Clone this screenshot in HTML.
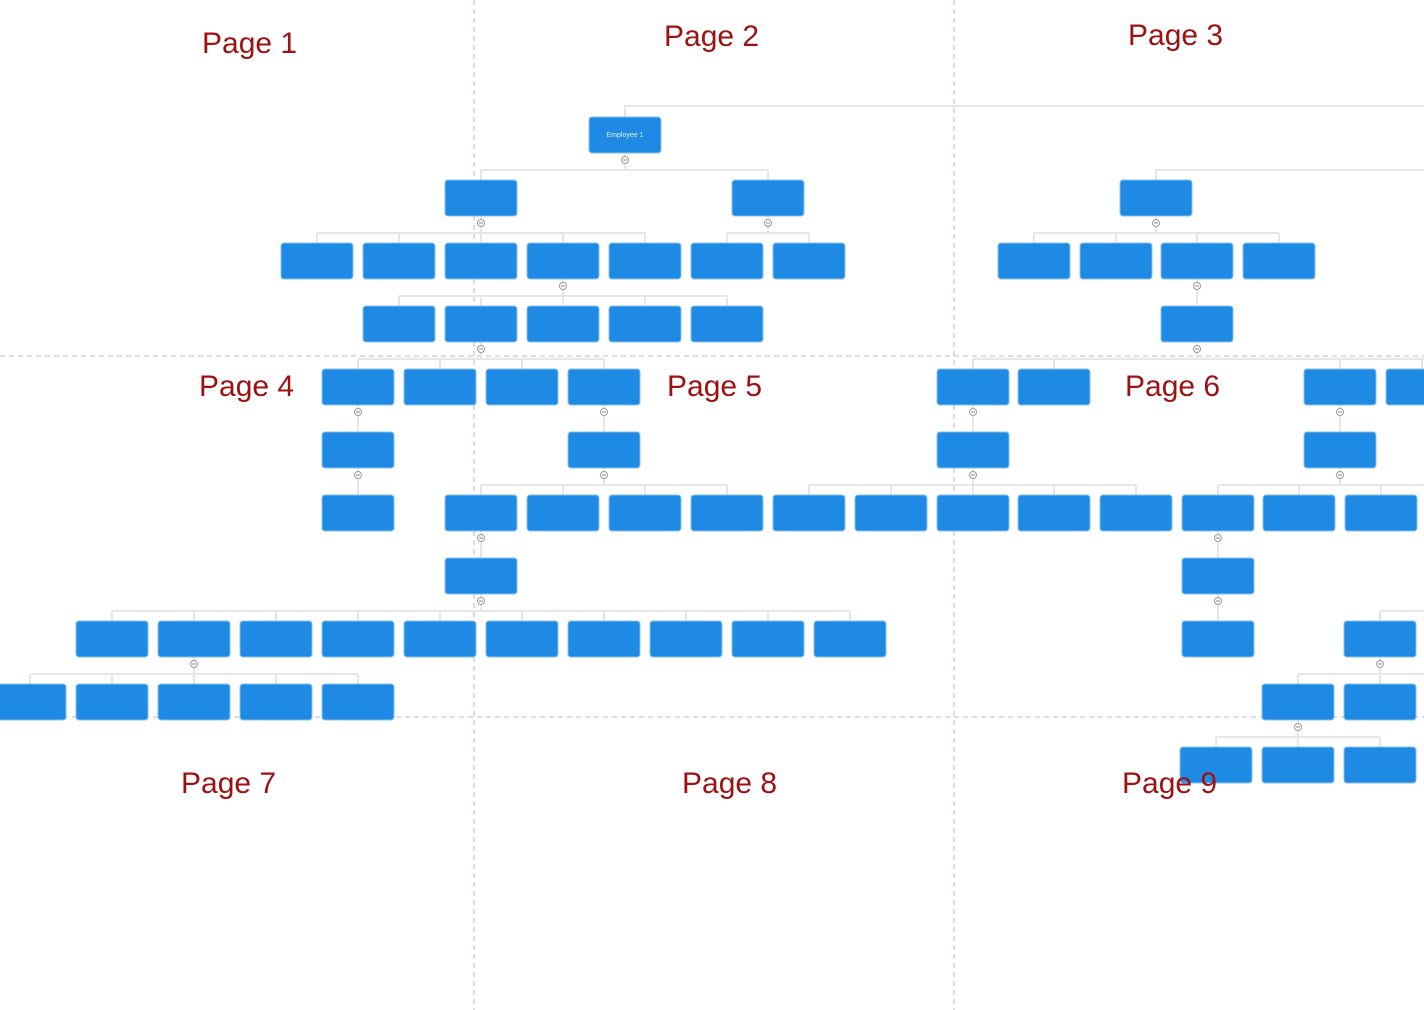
<!DOCTYPE html>
<html><head><meta charset="utf-8"><style>
html,body{margin:0;padding:0;background:#fff;}
body{width:1424px;height:1010px;overflow:hidden;position:relative;}
svg{position:absolute;left:0;top:0;}
.lbl{position:absolute;font-family:"Liberation Sans",sans-serif;font-size:30px;color:#9c1111;line-height:30px;white-space:nowrap;}
</style></head><body>
<svg width="1424" height="1010" viewBox="0 0 1424 1010">
<g stroke="#c6c6e0" stroke-width="1.3" stroke-dasharray="5,4" fill="none">
<path d="M474 0V1010M954 0V1010M0 356H1424M0 717H1424"/>
</g>
<g stroke="#e6e6e6" stroke-width="2" fill="none">
<path d="M625 153V170M481 170H768M481 170V180M768 170V180M625 117V106H1424"/>
<path d="M1156 180V170H1424"/>
<path d="M481 216V233M317 233H645M317 233V243M399 233V243M481 233V243M563 233V243M645 233V243"/>
<path d="M768 216V233M727 233H809M727 233V243M809 233V243"/>
<path d="M1156 216V233M1034 233H1279M1034 233V243M1116 233V243M1197 233V243M1279 233V243"/>
<path d="M563 279V296M399 296H727M399 296V306M481 296V306M563 296V306M645 296V306M727 296V306"/>
<path d="M1197 279V306"/>
<path d="M481 342V359M358 359H604M358 359V369M440 359V369M522 359V369M604 359V369"/>
<path d="M1197 342V359M973 359H1424M973 359V369M1054 359V369M1340 359V369M1422 359V369"/>
<path d="M358 405V432M604 405V432M973 405V432M1340 405V432"/>
<path d="M358 468V495M604 468V485M481 485H727M481 485V495M563 485V495M645 485V495M727 485V495"/>
<path d="M973 468V485M809 485H1136M809 485V495M891 485V495M973 485V495M1054 485V495M1136 485V495"/>
<path d="M1340 468V485M1218 485H1424M1218 485V495M1299 485V495M1381 485V495"/>
<path d="M481 531V558M1218 531V558"/>
<path d="M481 594V611M112 611H850M112 611V621M194 611V621M276 611V621M358 611V621M440 611V621M522 611V621M604 611V621M686 611V621M768 611V621M850 611V621"/>
<path d="M1218 594V621M1380 611H1424M1380 611V621"/>
<path d="M194 657V674M30 674H358M30 674V684M112 674V684M194 674V684M276 674V684M358 674V684"/>
<path d="M1380 657V674M1298 674H1424M1298 674V684M1380 674V684"/>
<path d="M1298 720V737M1216 737H1380M1216 737V747M1298 737V747M1380 737V747"/>
</g>
<g fill="#1e8ae4" stroke="#86c0ee" stroke-width="1">
<rect x="589" y="117" width="72" height="36" rx="3"/>
<rect x="445" y="180" width="72" height="36" rx="3"/><rect x="732" y="180" width="72" height="36" rx="3"/><rect x="1120" y="180" width="72" height="36" rx="3"/>
<rect x="281" y="243" width="72" height="36" rx="3"/><rect x="363" y="243" width="72" height="36" rx="3"/><rect x="445" y="243" width="72" height="36" rx="3"/><rect x="527" y="243" width="72" height="36" rx="3"/><rect x="609" y="243" width="72" height="36" rx="3"/><rect x="691" y="243" width="72" height="36" rx="3"/><rect x="773" y="243" width="72" height="36" rx="3"/><rect x="998" y="243" width="72" height="36" rx="3"/><rect x="1080" y="243" width="72" height="36" rx="3"/><rect x="1161" y="243" width="72" height="36" rx="3"/><rect x="1243" y="243" width="72" height="36" rx="3"/>
<rect x="363" y="306" width="72" height="36" rx="3"/><rect x="445" y="306" width="72" height="36" rx="3"/><rect x="527" y="306" width="72" height="36" rx="3"/><rect x="609" y="306" width="72" height="36" rx="3"/><rect x="691" y="306" width="72" height="36" rx="3"/><rect x="1161" y="306" width="72" height="36" rx="3"/>
<rect x="322" y="369" width="72" height="36" rx="3"/><rect x="404" y="369" width="72" height="36" rx="3"/><rect x="486" y="369" width="72" height="36" rx="3"/><rect x="568" y="369" width="72" height="36" rx="3"/><rect x="937" y="369" width="72" height="36" rx="3"/><rect x="1018" y="369" width="72" height="36" rx="3"/><rect x="1304" y="369" width="72" height="36" rx="3"/><rect x="1386" y="369" width="72" height="36" rx="3"/>
<rect x="322" y="432" width="72" height="36" rx="3"/><rect x="568" y="432" width="72" height="36" rx="3"/><rect x="937" y="432" width="72" height="36" rx="3"/><rect x="1304" y="432" width="72" height="36" rx="3"/>
<rect x="322" y="495" width="72" height="36" rx="3"/><rect x="445" y="495" width="72" height="36" rx="3"/><rect x="527" y="495" width="72" height="36" rx="3"/><rect x="609" y="495" width="72" height="36" rx="3"/><rect x="691" y="495" width="72" height="36" rx="3"/><rect x="773" y="495" width="72" height="36" rx="3"/><rect x="855" y="495" width="72" height="36" rx="3"/><rect x="937" y="495" width="72" height="36" rx="3"/><rect x="1018" y="495" width="72" height="36" rx="3"/><rect x="1100" y="495" width="72" height="36" rx="3"/><rect x="1182" y="495" width="72" height="36" rx="3"/><rect x="1263" y="495" width="72" height="36" rx="3"/><rect x="1345" y="495" width="72" height="36" rx="3"/>
<rect x="445" y="558" width="72" height="36" rx="3"/><rect x="1182" y="558" width="72" height="36" rx="3"/>
<rect x="76" y="621" width="72" height="36" rx="3"/><rect x="158" y="621" width="72" height="36" rx="3"/><rect x="240" y="621" width="72" height="36" rx="3"/><rect x="322" y="621" width="72" height="36" rx="3"/><rect x="404" y="621" width="72" height="36" rx="3"/><rect x="486" y="621" width="72" height="36" rx="3"/><rect x="568" y="621" width="72" height="36" rx="3"/><rect x="650" y="621" width="72" height="36" rx="3"/><rect x="732" y="621" width="72" height="36" rx="3"/><rect x="814" y="621" width="72" height="36" rx="3"/><rect x="1182" y="621" width="72" height="36" rx="3"/><rect x="1344" y="621" width="72" height="36" rx="3"/>
<rect x="-6" y="684" width="72" height="36" rx="3"/><rect x="76" y="684" width="72" height="36" rx="3"/><rect x="158" y="684" width="72" height="36" rx="3"/><rect x="240" y="684" width="72" height="36" rx="3"/><rect x="322" y="684" width="72" height="36" rx="3"/><rect x="1262" y="684" width="72" height="36" rx="3"/><rect x="1344" y="684" width="72" height="36" rx="3"/>
<rect x="1180" y="747" width="72" height="36" rx="3"/><rect x="1262" y="747" width="72" height="36" rx="3"/><rect x="1344" y="747" width="72" height="36" rx="3"/>
</g>
<text x="625" y="137" font-family="Liberation Sans, sans-serif" font-size="7" fill="#e8f2fc" text-anchor="middle">Employee 1</text>
<g fill="#fff" stroke="#9a9a9a" stroke-width="1">
<circle cx="625" cy="160" r="3.5"/><circle cx="481" cy="223" r="3.5"/><circle cx="768" cy="223" r="3.5"/><circle cx="1156" cy="223" r="3.5"/>
<circle cx="563" cy="286" r="3.5"/><circle cx="1197" cy="286" r="3.5"/><circle cx="481" cy="349" r="3.5"/><circle cx="1197" cy="349" r="3.5"/>
<circle cx="358" cy="412" r="3.5"/><circle cx="604" cy="412" r="3.5"/><circle cx="973" cy="412" r="3.5"/><circle cx="1340" cy="412" r="3.5"/>
<circle cx="358" cy="475" r="3.5"/><circle cx="604" cy="475" r="3.5"/><circle cx="973" cy="475" r="3.5"/><circle cx="1340" cy="475" r="3.5"/>
<circle cx="481" cy="538" r="3.5"/><circle cx="1218" cy="538" r="3.5"/><circle cx="481" cy="601" r="3.5"/><circle cx="1218" cy="601" r="3.5"/>
<circle cx="194" cy="664" r="3.5"/><circle cx="1380" cy="664" r="3.5"/><circle cx="1298" cy="727" r="3.5"/>
</g>
<g stroke="#8a8a8a" stroke-width="1">
<path d="M623 160h4M479 223h4M766 223h4M1154 223h4M561 286h4M1195 286h4M479 349h4M1195 349h4M356 412h4M602 412h4M971 412h4M1338 412h4M356 475h4M602 475h4M971 475h4M1338 475h4M479 538h4M1216 538h4M479 601h4M1216 601h4M192 664h4M1378 664h4M1296 727h4"/>
</g>
</svg>
<div class="lbl" style="left:202px;top:29px">Page 1</div>
<div class="lbl" style="left:664px;top:22px">Page 2</div>
<div class="lbl" style="left:1128px;top:21px">Page 3</div>
<div class="lbl" style="left:199px;top:372px">Page 4</div>
<div class="lbl" style="left:667px;top:372px">Page 5</div>
<div class="lbl" style="left:1125px;top:372px">Page 6</div>
<div class="lbl" style="left:181px;top:769px">Page 7</div>
<div class="lbl" style="left:682px;top:769px">Page 8</div>
<div class="lbl" style="left:1122px;top:769px">Page 9</div>
</body></html>
